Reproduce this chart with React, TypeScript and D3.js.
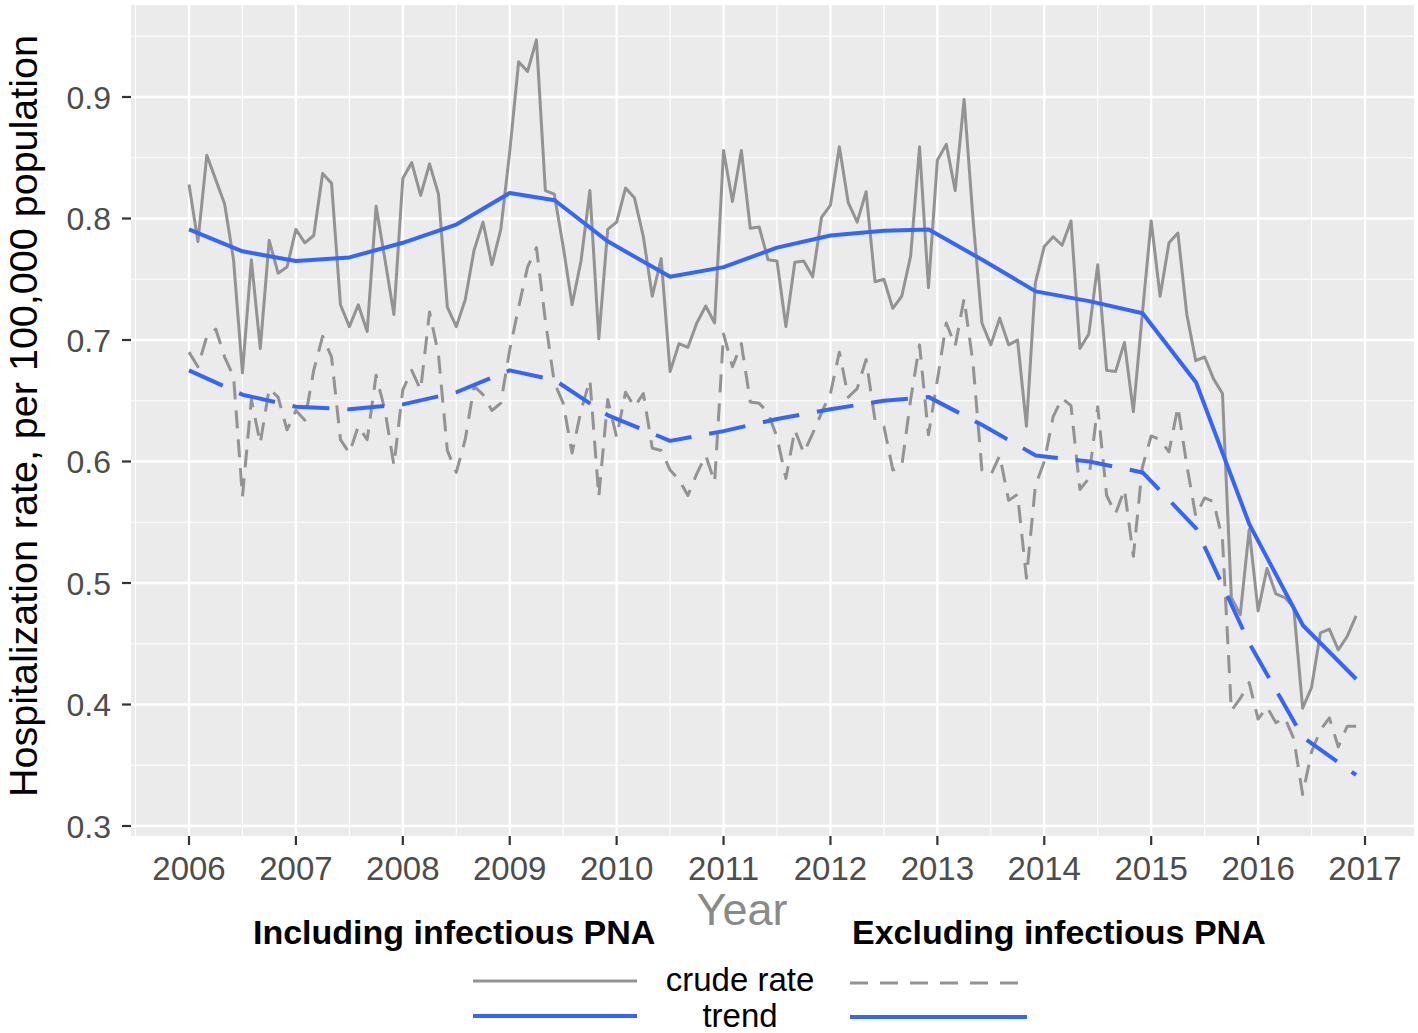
import React from "react";
import * as d3 from "d3";

// ---- Data (monthly, Jan 2006 .. Dec 2016) ----
const startYear = 2006;
const crudeIncluding = [
  0.828, 0.781, 0.852, 0.832, 0.812, 0.766, 0.673, 0.766, 0.693, 0.782, 0.755, 0.760,
  0.791, 0.780, 0.786, 0.837, 0.829, 0.729, 0.711, 0.729, 0.707, 0.810, 0.766, 0.721,
  0.833, 0.846, 0.819, 0.845, 0.820, 0.727, 0.711, 0.733, 0.774, 0.797, 0.762, 0.791,
  0.855, 0.929, 0.921, 0.947, 0.823, 0.820, 0.777, 0.729, 0.765, 0.823, 0.701, 0.791,
  0.797, 0.825, 0.817, 0.785, 0.736, 0.767, 0.674, 0.697, 0.694, 0.714, 0.728, 0.714,
  0.856, 0.814, 0.856, 0.792, 0.793, 0.766, 0.765, 0.711, 0.764, 0.765, 0.752, 0.801,
  0.811, 0.859, 0.813, 0.797, 0.822, 0.748, 0.750, 0.726, 0.736, 0.769, 0.859, 0.743,
  0.848, 0.861, 0.823, 0.898, 0.800, 0.714, 0.696, 0.718, 0.696, 0.700, 0.629, 0.747,
  0.777, 0.785, 0.778, 0.798, 0.693, 0.705, 0.762, 0.675, 0.674, 0.698, 0.641, 0.721,
  0.798, 0.736, 0.780, 0.788, 0.721, 0.683, 0.686, 0.668, 0.656, 0.488, 0.474, 0.544,
  0.477, 0.512, 0.491, 0.488, 0.480, 0.397, 0.414, 0.459, 0.462, 0.445, 0.456, 0.473,
];
const crudeExcluding = [
  0.690, 0.678, 0.703, 0.709, 0.686, 0.670, 0.571, 0.651, 0.615, 0.660, 0.653, 0.626,
  0.642, 0.634, 0.675, 0.703, 0.686, 0.618, 0.607, 0.629, 0.618, 0.671, 0.642, 0.597,
  0.659, 0.675, 0.659, 0.723, 0.688, 0.609, 0.591, 0.618, 0.662, 0.655, 0.642, 0.648,
  0.692, 0.727, 0.760, 0.776, 0.716, 0.665, 0.648, 0.607, 0.642, 0.667, 0.571, 0.651,
  0.620, 0.657, 0.645, 0.656, 0.611, 0.609, 0.593, 0.585, 0.572, 0.590, 0.605, 0.583,
  0.705, 0.678, 0.697, 0.649, 0.648, 0.640, 0.620, 0.586, 0.626, 0.607, 0.623, 0.640,
  0.656, 0.690, 0.653, 0.660, 0.684, 0.634, 0.629, 0.593, 0.596, 0.651, 0.696, 0.622,
  0.667, 0.714, 0.695, 0.734, 0.681, 0.593, 0.589, 0.605, 0.568, 0.573, 0.504, 0.580,
  0.600, 0.637, 0.652, 0.646, 0.577, 0.586, 0.645, 0.572, 0.557, 0.577, 0.522, 0.595,
  0.621, 0.618, 0.608, 0.645, 0.597, 0.555, 0.570, 0.567, 0.536, 0.395, 0.405, 0.418,
  0.388, 0.398, 0.385, 0.389, 0.372, 0.326, 0.361, 0.379, 0.389, 0.365, 0.382, 0.382,
];
const trendKnotYears = [
  2006.0, 2006.5, 2007.0, 2007.5, 2008.0, 2008.5, 2009.0, 2009.42, 2009.92, 2010.5,
  2011.0, 2011.5, 2012.0, 2012.5, 2012.92, 2013.42, 2013.92, 2014.42, 2014.92, 2015.42,
  2015.92, 2016.42, 2016.917,
];
const trendIncluding = [
  0.791, 0.773, 0.765, 0.768, 0.780, 0.795, 0.821, 0.815, 0.781, 0.752,
  0.760, 0.776, 0.786, 0.790, 0.791, 0.766, 0.740, 0.732, 0.722, 0.665,
  0.548, 0.465, 0.421,
];
const trendExcluding = [
  0.675, 0.655, 0.645, 0.643, 0.647, 0.657, 0.675, 0.667, 0.638, 0.617,
  0.625, 0.635, 0.643, 0.650, 0.653, 0.630, 0.605, 0.600, 0.591, 0.545,
  0.450, 0.373, 0.342,
];
const yTicks = [0.3, 0.4, 0.5, 0.6, 0.7, 0.8, 0.9];
const yMinor = [0.35, 0.45, 0.55, 0.65, 0.75, 0.85, 0.95];
const xTicks = [2006, 2007, 2008, 2009, 2010, 2011, 2012, 2013, 2014, 2015, 2016, 2017];
const xMinor = [2005.5, 2006.5, 2007.5, 2008.5, 2009.5, 2010.5, 2011.5, 2012.5, 2013.5, 2014.5, 2015.5, 2016.5];
const groupTitles = ["Including infectious PNA", "Excluding infectious PNA"];
const rowLabels = ["crude rate", "trend"];

const GRAY = "#939393";
const BLUE = "#3366FF";
const FONT = "'Liberation Sans', Arial, Helvetica, sans-serif";

export default function App() {
  const W = 1418, H = 1033;
  const panel = { left: 131, right: 1414, top: 5, bottom: 836 };
  const x = d3.scaleLinear().domain([2006, 2017]).range([189, 1365]);
  const y = d3.scaleLinear().domain([0.3, 0.9]).range([826, 97]);

  type P = [number, number];
  const monthly = (arr: number[]): P[] => arr.map((v, i) => [startYear + i / 12, v]);
  const knots = (arr: number[]): P[] => arr.map((v, i) => [trendKnotYears[i], v]);
  const line = d3.line<P>().x((d) => x(d[0])).y((d) => y(d[1]));

  return (
    <svg width={W} height={H} style={{ position: "absolute", left: 0, top: 0, background: "#fff" }} fontFamily={FONT}>
      <rect x={panel.left} y={panel.top} width={panel.right - panel.left} height={panel.bottom - panel.top} fill="#EBEBEB" />
      <clipPath id="pc">
        <rect x={panel.left} y={panel.top} width={panel.right - panel.left} height={panel.bottom - panel.top} />
      </clipPath>
      <g clipPath="url(#pc)">
        {yMinor.map((t) => (
          <line key={"ym" + t} x1={panel.left} x2={panel.right} y1={y(t)} y2={y(t)} stroke="#fff" strokeWidth={1.1} />
        ))}
        {xMinor.map((t) => (
          <line key={"xm" + t} y1={panel.top} y2={panel.bottom} x1={x(t)} x2={x(t)} stroke="#fff" strokeWidth={1.1} />
        ))}
        {yTicks.map((t) => (
          <line key={"yM" + t} x1={panel.left} x2={panel.right} y1={y(t)} y2={y(t)} stroke="#fff" strokeWidth={2.3} />
        ))}
        {xTicks.map((t) => (
          <line key={"xM" + t} y1={panel.top} y2={panel.bottom} x1={x(t)} x2={x(t)} stroke="#fff" strokeWidth={2.3} />
        ))}
        <path d={line(monthly(crudeIncluding)) || ""} fill="none" stroke={GRAY} strokeWidth={3} strokeLinejoin="round" />
        <path d={line(monthly(crudeExcluding)) || ""} fill="none" stroke={GRAY} strokeWidth={3} strokeDasharray="18,11" strokeLinejoin="round" />
        <path d={line(knots(trendIncluding)) || ""} fill="none" stroke={BLUE} strokeWidth={4} strokeLinejoin="round" />
        <path d={line(knots(trendExcluding)) || ""} fill="none" stroke={BLUE} strokeWidth={4} strokeDasharray="37,18" strokeLinejoin="round" />
      </g>
      {yTicks.map((t) => (
        <g key={"yt" + t}>
          <line x1={panel.left - 9} x2={panel.left} y1={y(t)} y2={y(t)} stroke="#333" strokeWidth={2.2} />
          <text x={111} y={y(t) + 11.5} textAnchor="end" fontSize={32} fill="#4D4D4D">{t.toFixed(1)}</text>
        </g>
      ))}
      {xTicks.map((t) => (
        <g key={"xt" + t}>
          <line x1={x(t)} x2={x(t)} y1={panel.bottom} y2={panel.bottom + 9} stroke="#333" strokeWidth={2.2} />
          <text x={x(t)} y={880} textAnchor="middle" fontSize={33} fill="#4D4D4D">{t}</text>
        </g>
      ))}
      <text transform={`translate(37,416) rotate(-90)`} textAnchor="middle" fontSize={39.5} fill="#000">
        Hospitalization rate, per 100,000 population
      </text>
      <text x={742} y={925} textAnchor="middle" fontSize={45} fill="#8a8a8a">Year</text>
      <text x={253} y={944} fontSize={34} fontWeight="bold" fill="#000">{groupTitles[0]}</text>
      <text x={852} y={944} fontSize={34} fontWeight="bold" fill="#000">{groupTitles[1]}</text>
      <line x1={473} x2={637} y1={981} y2={981} stroke={GRAY} strokeWidth={3.2} />
      <line x1={473} x2={637} y1={1016} y2={1016} stroke={BLUE} strokeWidth={4} />
      <line x1={850} x2={1027} y1={983} y2={983} stroke={GRAY} strokeWidth={3.2} strokeDasharray="18,12" />
      <line x1={850} x2={1027} y1={1017} y2={1017} stroke={BLUE} strokeWidth={4} />
      <text x={740} y={991} textAnchor="middle" fontSize={33} fill="#000">{rowLabels[0]}</text>
      <text x={740} y={1027} textAnchor="middle" fontSize={33} fill="#000">{rowLabels[1]}</text>
    </svg>
  );
}
